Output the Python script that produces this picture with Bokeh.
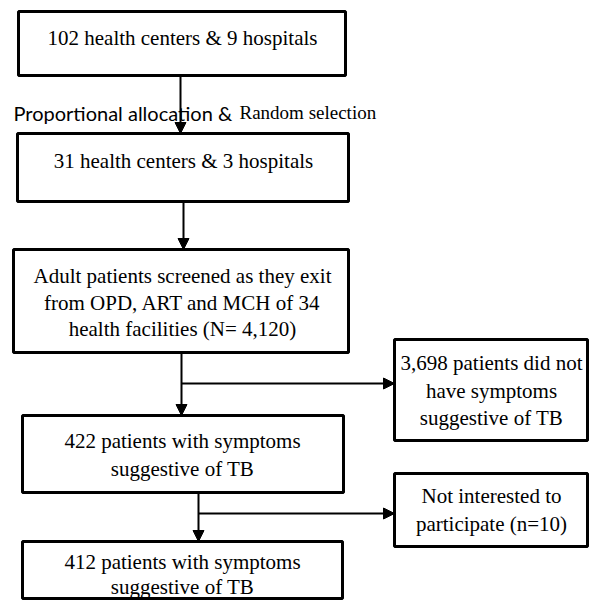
from bokeh.plotting import figure
from bokeh.models import Range1d, Arrow, NormalHead, ColumnDataSource
from bokeh.core.properties import value
from bokeh.embed import file_html
from bokeh.resources import INLINE

# ---- content ----
box_texts = [
    ["102 health centers & 9 hospitals"],
    ["31 health centers & 3 hospitals"],
    ["Adult patients screened as they exit", "from OPD, ART and MCH of 34", "health facilities (N= 4,120)"],
    ["422 patients with symptoms", "suggestive of TB"],
    ["412 patients with symptoms", "suggestive of TB"],
    ["3,698 patients did not", "have symptoms", "suggestive of TB"],
    ["Not interested to", "participate (n=10)"],
]
label_sans = "Proportional allocation &"
label_serif = "Random selection"

# ---- layout (pixel coordinates) ----
boxes = [  # left, top, right, bottom
    (18, 11, 345, 75),
    (17, 133, 348, 201),
    (13, 249, 348, 352),
    (22, 415, 343, 492),
    (22, 541, 342, 598),
    (394, 339, 587, 440),
    (394, 473, 587, 546),
]
text_x = [182, 183, 182, 182, 182, 491, 491]
text_y = [[37], [160], [275, 302, 328], [440, 468], [561, 586], [362, 390, 417], [495, 523]]

p = figure(width=589, height=600, output_backend="svg", toolbar_location=None,
           x_range=Range1d(0, 589), y_range=Range1d(600, 0), min_border=0)
p.axis.visible = False
p.grid.visible = False
p.outline_line_color = None
p.background_fill_color = "white"

p.quad(left=[b[0] for b in boxes], right=[b[2] for b in boxes],
       top=[b[1] for b in boxes], bottom=[b[3] for b in boxes],
       fill_color="white", line_color="black", line_width=3)

xs, ys, ts = [], [], []
for lines, tx, tys in zip(box_texts, text_x, text_y):
    for ln, ty in zip(lines, tys):
        xs.append(tx); ys.append(ty); ts.append(ln)
src = ColumnDataSource(dict(x=xs, y=ys, t=ts))
p.text(x="x", y="y", text="t", source=src, text_align="center", text_baseline="middle",
       text_font=value("Liberation Serif"), text_font_size="21px", text_color="black")

# arrows
arrows = [  # x0, y0, x1, y1
    (180, 75, 180, 133),
    (183, 201, 183, 249),
    (181, 352, 181, 415),
    (198, 492, 198, 541),
    (181, 383, 394, 383),
    (198, 513, 394, 513),
]
for x0, y0, x1, y1 in arrows:
    p.add_layout(Arrow(end=NormalHead(size=11, fill_color="black", line_color="black"),
                       x_start=x0, y_start=y0, x_end=x1, y_end=y1,
                       line_color="black", line_width=2))

p.text(x=[13], y=[112], text=[label_sans], text_align="left", text_baseline="alphabetic",
       text_font=value("Lato"), text_font_size="20px", text_color="black")
p.text(x=[239], y=[112], text=[label_serif], text_align="left", text_baseline="alphabetic",
       text_font=value("Liberation Serif"), text_font_size="19px", text_color="black")

open("out.html", "w").write(file_html(p, INLINE))
